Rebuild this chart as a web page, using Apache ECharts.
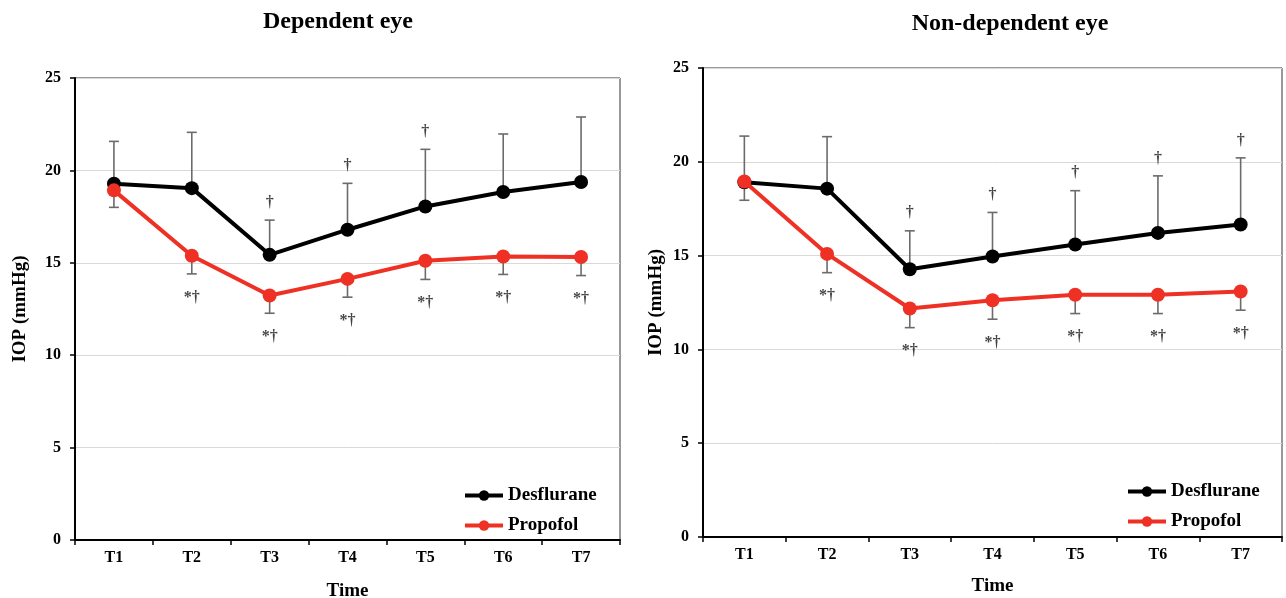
<!DOCTYPE html>
<html>
<head>
<meta charset="utf-8">
<script src="https://cdn.jsdelivr.net/npm/echarts@6/dist/echarts.min.js"></script>
<style>
html,body{margin:0;padding:0;background:#fff;}
#chart{width:1286px;height:598px;}
</style>
</head>
<body>
<div id="chart"></div>
<script>
const categories = ['T1','T2','T3','T4','T5','T6','T7'];
const yTicks = [0,5,10,15,20,25];

// Dependent eye
const depDesflurane = [19.28, 19.04, 15.43, 16.79, 18.05, 18.83, 19.37];
const depDesfluraneUpper = [21.57, 22.06, 17.31, 19.30, 21.14, 21.97, 22.89];
const depPropofol = [18.92, 15.38, 13.23, 14.13, 15.11, 15.34, 15.31];
const depPropofolLower = [18.0, 14.4, 12.27, 13.14, 14.10, 14.37, 14.31];
const depAboveMarks = ['', '', '†', '†', '†', '', ''];
const depBelowMarks = ['', '*†', '*†', '*†', '*†', '*†', '*†'];

// Non-dependent eye
const nonDesflurane = [18.91, 18.57, 14.27, 14.95, 15.59, 16.21, 16.66];
const nonDesfluraneUpper = [21.37, 21.34, 16.32, 17.30, 18.46, 19.25, 20.21];
const nonPropofol = [18.95, 15.09, 12.18, 12.62, 12.91, 12.91, 13.09];
const nonPropofolLower = [17.95, 14.09, 11.16, 11.61, 11.91, 11.91, 12.09];
const nonAboveMarks = ['', '', '†', '†', '†', '†', '†'];
const nonBelowMarks = ['', '*†', '*†', '*†', '*†', '*†', '*†'];

const FONT = '"Liberation Serif", "Times New Roman", serif';
const BLACK = '#000000';
const RED = '#EE3124';
const ERR = '#6b6b6b';

function errRender(params, api) {
  const i = api.value(0), v = api.value(1), e = api.value(2);
  const p1 = api.coord([i, v]);
  const p2 = api.coord([i, e]);
  const hw = 5;
  return {
    type: 'group',
    children: [
      {type: 'line', shape: {x1: p1[0], y1: p1[1], x2: p2[0], y2: p2[1]}, style: {stroke: ERR, lineWidth: 1.6}},
      {type: 'line', shape: {x1: p2[0] - hw, y1: p2[1], x2: p2[0] + hw, y2: p2[1]}, style: {stroke: ERR, lineWidth: 1.6}}
    ]
  };
}

function makeAxes(gi) {
  const x = {
    type: 'category', gridIndex: gi, data: categories, boundaryGap: true,
    name: 'Time', nameLocation: 'middle', nameGap: gi === 0 ? 42 : 40,
    nameTextStyle: {fontFamily: FONT, fontWeight: 'bold', fontSize: 19, color: '#000'},
    axisLine: {lineStyle: {color: '#000', width: 2}},
    axisTick: {show: true, alignWithLabel: false, length: 5, lineStyle: {color: '#000', width: 1.5}},
    axisLabel: {fontFamily: FONT, fontWeight: 'bold', fontSize: 16, color: '#000', margin: 10},
    splitLine: {show: false}
  };
  const y = {
    type: 'value', gridIndex: gi, min: 0, max: 25, interval: 5,
    name: 'IOP (mmHg)', nameLocation: 'middle', nameGap: gi === 0 ? 45 : 37,
    nameTextStyle: {fontFamily: FONT, fontWeight: 'bold', fontSize: 19, color: '#000'},
    axisLine: {show: true, lineStyle: {color: '#000', width: 2}},
    axisTick: {show: true, length: 5, lineStyle: {color: '#000', width: 1.5}},
    axisLabel: {fontFamily: FONT, fontWeight: 'bold', fontSize: 16, color: '#000', margin: 14,
      formatter: function (v) { return yTicks.indexOf(v) >= 0 ? String(v) : ''; }},
    splitLine: {show: true, lineStyle: {color: '#d9d9d9', width: 1}}
  };
  return {x, y};
}

function makeSeries(gi, des, desUp, pro, proLow, above, below) {
  const s = [];
  s.push({
    type: 'custom', name: 'errDes' + gi, xAxisIndex: gi, yAxisIndex: gi, z: 1,
    renderItem: errRender, encode: {x: 0, y: [1, 2]},
    data: categories.map((c, i) => [i, des[i], desUp[i]]), silent: true
  });
  s.push({
    type: 'custom', name: 'errPro' + gi, xAxisIndex: gi, yAxisIndex: gi, z: 1,
    renderItem: errRender, encode: {x: 0, y: [1, 2]},
    data: categories.map((c, i) => [i, pro[i], proLow[i]]), silent: true
  });
  s.push({
    type: 'line', name: 'Desflurane', xAxisIndex: gi, yAxisIndex: gi, z: 3,
    data: des, symbol: 'circle', symbolSize: 14,
    lineStyle: {color: BLACK, width: 4}, itemStyle: {color: BLACK}
  });
  s.push({
    type: 'line', name: 'Propofol', xAxisIndex: gi, yAxisIndex: gi, z: 4,
    data: pro, symbol: 'circle', symbolSize: 14,
    lineStyle: {color: RED, width: 4}, itemStyle: {color: RED}
  });
  const lbl = {fontFamily: FONT, fontWeight: 'bold', fontSize: 16, color: '#111'};
  s.push({
    type: 'scatter', name: 'above' + gi, xAxisIndex: gi, yAxisIndex: gi, z: 5, silent: true,
    symbolSize: 1, itemStyle: {color: 'rgba(0,0,0,0)'},
    data: categories.map((c, i) => [i, desUp[i], above[i]]).filter(d => d[2] !== ''),
    label: Object.assign({show: true, position: 'top', distance: 9, formatter: p => p.data[2]}, lbl)
  });
  s.push({
    type: 'scatter', name: 'below' + gi, xAxisIndex: gi, yAxisIndex: gi, z: 5, silent: true,
    symbolSize: 1, itemStyle: {color: 'rgba(0,0,0,0)'},
    data: categories.map((c, i) => [i, proLow[i], below[i]]).filter(d => d[2] !== ''),
    label: Object.assign({show: true, position: 'bottom', distance: 15, formatter: p => p.data[2]}, lbl)
  });
  return s;
}

const a0 = makeAxes(0), a1 = makeAxes(1);
const legendBase = {
  orient: 'vertical', data: ['Desflurane', 'Propofol'], itemWidth: 38, itemHeight: 13, itemGap: 11,
  lineStyle: {width: 4},
  textStyle: {fontFamily: FONT, fontWeight: 'bold', fontSize: 19, color: '#000'}, selectedMode: false
};

const option = {
  animation: false,
  backgroundColor: '#fff',
  title: [
    {text: 'Dependent eye', left: 333, top: 5, textAlign: 'center',
      textStyle: {fontFamily: FONT, fontWeight: 'bold', fontSize: 24, color: '#000'}},
    {text: 'Non-dependent eye', left: 1005, top: 7, textAlign: 'center',
      textStyle: {fontFamily: FONT, fontWeight: 'bold', fontSize: 24, color: '#000'}}
  ],
  grid: [
    {left: 75, top: 78, width: 545, height: 462, show: true, borderColor: '#333', borderWidth: 1,
      containLabel: false, outerBoundsMode: 'none'},
    {left: 703, top: 68, width: 579, height: 469, show: true, borderColor: '#333', borderWidth: 1,
      containLabel: false, outerBoundsMode: 'none'}
  ],
  legend: [
    Object.assign({left: 458, top: 481}, legendBase),
    Object.assign({left: 1121, top: 477}, legendBase)
  ],
  xAxis: [a0.x, a1.x],
  yAxis: [a0.y, a1.y],
  series: [].concat(
    makeSeries(0, depDesflurane, depDesfluraneUpper, depPropofol, depPropofolLower, depAboveMarks, depBelowMarks),
    makeSeries(1, nonDesflurane, nonDesfluraneUpper, nonPropofol, nonPropofolLower, nonAboveMarks, nonBelowMarks)
  )
};

const chart = echarts.init(document.getElementById('chart'));
chart.setOption(option);
</script>
</body>
</html>
